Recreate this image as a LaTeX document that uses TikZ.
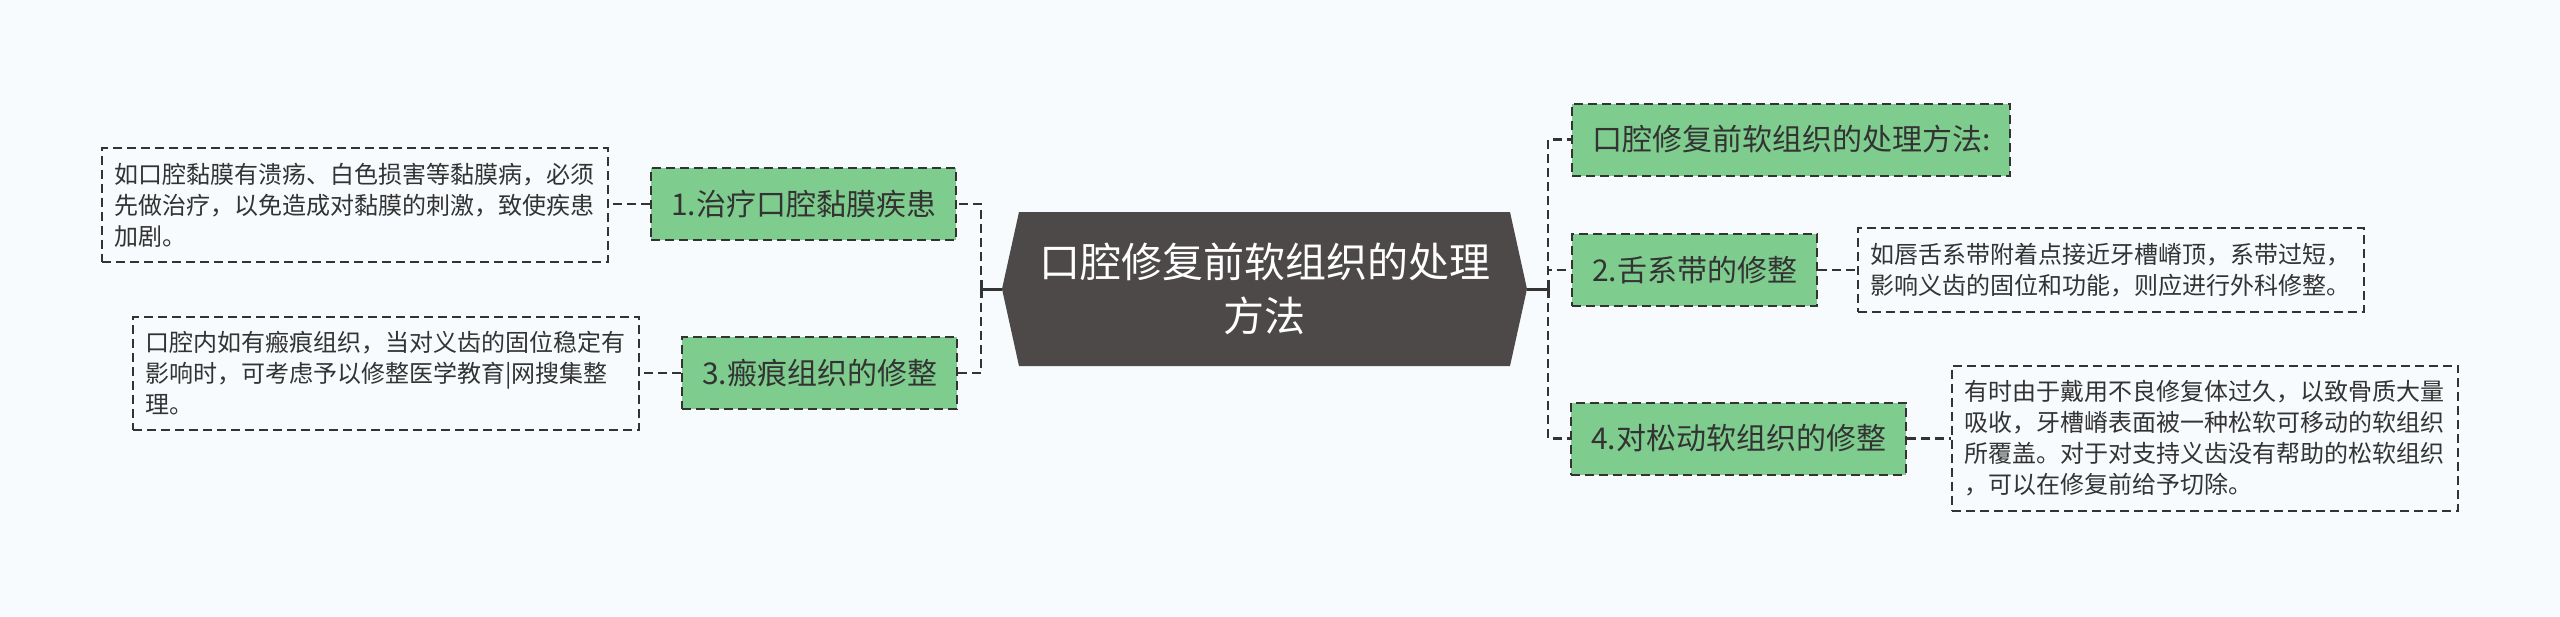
\documentclass[tikz,border=0pt]{standalone}
\usepackage{fontspec}
\newfontfamily\cjk{Noto Sans CJK SC}

\definecolor{pagebg}{HTML}{F7FBFD}
\definecolor{leafgreen}{HTML}{7FCC8F}
\definecolor{rootgray}{HTML}{4D4949}
\definecolor{linegray}{HTML}{333333}

\tikzset{
  root/.style={minimum width=262.5pt, minimum height=77pt, inner sep=0pt, align=center,
    text=white, font=\cjk\fontsize{20.5}{27}\selectfont,
    path picture={\fill[rootgray] ([xshift=8.5pt]path picture bounding box.north west)
      -- ([xshift=-8.5pt]path picture bounding box.north east) -- (path picture bounding box.east)
      -- ([xshift=-8.5pt]path picture bounding box.south east) -- ([xshift=8.5pt]path picture bounding box.south west)
      -- (path picture bounding box.west) -- cycle;}},
  topic/.style={draw=linegray, dash pattern=on 4.5pt off 2.5pt, line width=1pt, fill=leafgreen,
    text=linegray, font=\cjk\fontsize{15}{18}\selectfont, inner xsep=10pt, minimum height=36pt},
  note/.style={draw=linegray, dash pattern=on 4.5pt off 2.5pt, line width=1pt, fill=pagebg,
    text=linegray, font=\cjk\fontsize{12}{15.5}\selectfont, text width=241pt, align=left,
    inner xsep=6pt, inner ysep=7.5pt},
  link/.style={draw=linegray, line width=1.2pt, dash pattern=on 4.5pt off 2.5pt},
  stub/.style={draw=linegray, line width=1.5pt}
}

\begin{document}
\begin{tikzpicture}[x=0.5pt,y=-0.5pt]
        \fill[pagebg] (0,0) rectangle (2560,616);
        \useasboundingbox (0,0) rectangle (2560,616);

        % centre
        \node[root] (root) at (1264.5,289) {口腔修复前软组织的处理\\方法};
        \coordinate (lspine) at (981,289);
        \coordinate (rspine) at (1548,289);

        % left branches
        \node[topic, anchor=east] (treat) at (957,204) {1.治疗口腔黏膜疾患};
        \node[note, anchor=east] (treatnote) at (609,205) {如口腔黏膜有溃疡、白色损害等黏膜病，必须\\先做治疗，以免造成对黏膜的刺激，致使疾患\\加剧。};
        \node[topic, anchor=east] (scar) at (958,373) {3.瘢痕组织的修整};
        \node[note, anchor=east] (scarnote) at (640,373.5) {口腔内如有瘢痕组织，当对义齿的固位稳定有\\影响时，可考虑予以修整医学教育|网搜集整\\理。};

        % right branches
        \node[topic, anchor=west] (method) at (1571,139.5) {口腔修复前软组织的处理方法:};
        \node[topic, anchor=west] (frenum) at (1571,270) {2.舌系带的修整};
        \node[note, anchor=west] (frenumnote) at (1857,270) {如唇舌系带附着点接近牙槽嵴顶，系带过短，\\影响义齿的固位和功能，则应进行外科修整。};
        \node[topic, anchor=west] (loose) at (1570,438.5) {4.对松动软组织的修整};
        \node[note, anchor=west] (loosenote) at (1951,438.5) {有时由于戴用不良修复体过久，以致骨质大量\\吸收，牙槽嵴表面被一种松软可移动的软组织\\所覆盖。对于对支持义齿没有帮助的松软组织\\，可以在修复前给予切除。};

        % connectors
        \draw[stub] (root.west) -- (lspine) ++(0,-9) -- ++(0,18);
        \draw[stub] (root.east) -- (rspine) ++(0,-9) -- ++(0,18);
        \draw[link] (lspine) |- (treat.east);
        \draw[link] (lspine) |- (scar.east);
        \draw[link] (rspine) |- (method.west);
        \draw[link] (rspine) |- (frenum.west);
        \draw[link] (rspine) |- (loose.west);
        \draw[link] (treat.west) -- (treat.west -| treatnote.east);
        \draw[link] (scar.west) -- (scar.west -| scarnote.east);
        \draw[link] (frenum.east) -- (frenum.east -| frenumnote.west);
        \draw[link] (loose.east) -- (loose.east -| loosenote.west);
      \end{tikzpicture}
\end{document}
